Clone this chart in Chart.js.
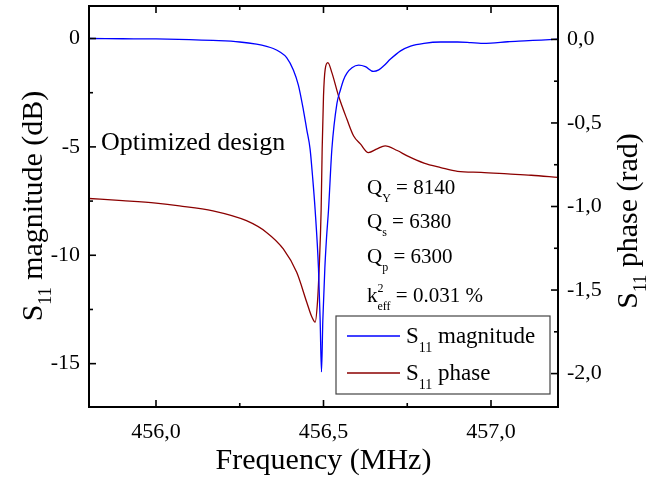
<!DOCTYPE html>
<html>
<head>
<meta charset="utf-8">
<script src="https://cdn.jsdelivr.net/npm/chart.js@4.4.1/dist/chart.umd.min.js"></script>
<style>
    body { margin: 0; background: #fff; }
    #wrap { width: 667px; height: 479px; }
</style>
</head>
<body>
<div id="wrap"><canvas id="myChart" width="667" height="479"></canvas></div>
<script>
// S11 magnitude (dB) vs frequency (MHz)
const freqMag = [455.8, 455.9, 456.0, 456.1, 456.17, 456.25, 456.3, 456.33, 456.35, 456.37, 456.39, 456.41, 456.425, 456.44, 456.45, 456.46, 456.467, 456.475, 456.485, 456.49, 456.494, 456.498, 456.504, 456.509, 456.515, 456.525, 456.54, 456.55, 456.56, 456.57, 456.585, 456.605, 456.625, 456.649, 456.665, 456.68, 456.7, 456.73, 456.76, 456.8, 456.85, 456.9, 456.94, 456.97, 457.0, 457.05, 457.1, 457.15, 457.2];
const magDb = [0, -0.01, -0.02, -0.05, -0.09, -0.16, -0.26, -0.36, -0.46, -0.62, -0.88, -1.45, -2.15, -3.3, -4.2, -5.1, -6.3, -7.9, -10.6, -13.0, -15.38, -13.0, -10.6, -9.2, -7.9, -5.1, -3.0, -2.4, -1.9, -1.6, -1.35, -1.23, -1.3, -1.52, -1.45, -1.26, -0.95, -0.57, -0.35, -0.22, -0.16, -0.16, -0.19, -0.22, -0.21, -0.15, -0.11, -0.07, -0.03];

// S11 phase (rad) vs frequency (MHz)
const freqPhase = [455.8, 455.9, 456.0, 456.07, 456.17, 456.27, 456.33, 456.38, 456.42, 456.45, 456.465, 456.475, 456.482, 456.487, 456.493, 456.496, 456.5, 456.505, 456.513, 456.525, 456.545, 456.57, 456.59, 456.61, 456.634, 456.66, 456.684, 456.72, 456.75, 456.8, 456.85, 456.9, 456.97, 457.05, 457.12, 457.2];
const phaseRad = [-0.952, -0.965, -0.98, -0.996, -1.026, -1.085, -1.155, -1.254, -1.394, -1.573, -1.66, -1.692, -1.573, -1.374, -1.016, -0.657, -0.339, -0.179, -0.139, -0.199, -0.339, -0.478, -0.578, -0.625, -0.677, -0.655, -0.637, -0.665, -0.697, -0.74, -0.767, -0.79, -0.796, -0.805, -0.813, -0.826];

const freqTicks = [456.0, 456.5, 457.0];
const magTicks = [-15, -10, -5, 0];
const phaseTicks = [-2.0, -1.5, -1.0, -0.5, 0.0];

const FONT = '"Liberation Serif", "Times New Roman", serif';
const BLUE = '#0000ff';
const RED = '#8b0000';

function comma(v) {
    return Number(v).toFixed(1).replace('.', ',');
}

// draw a run of text pieces: {t, s (size), dy, stay (don't advance)}
function drawParts(ctx, x, y, parts) {
    let cx = x;
    parts.forEach(p => {
        ctx.font = p.s + 'px ' + FONT;
        ctx.fillText(p.t, cx, y + (p.dy || 0));
        if (!p.stay) cx += ctx.measureText(p.t).width;
    });
}

function partsWidth(ctx, parts) {
    let w = 0;
    parts.forEach(p => {
        ctx.font = p.s + 'px ' + FONT;
        if (!p.stay) w += ctx.measureText(p.t).width;
    });
    return w;
}

function minorValues(majors, min, max) {
    const step = majors[1] - majors[0];
    const out = [];
    for (let v = majors[0] - step / 2; v <= majors[majors.length - 1] + step / 2 + 1e-9; v += step) {
        if (v >= min && v <= max) out.push(v);
    }
    return out;
}

function noPad(s) {
    s.paddingTop = 0;
    s.paddingBottom = 0;
    s.paddingLeft = 0;
    s.paddingRight = 0;
}

const decorPlugin = {
    id: 'decor',
    afterDraw(chart) {
        const { ctx, chartArea: a, scales } = chart;
        ctx.save();
        ctx.strokeStyle = '#000';
        ctx.fillStyle = '#000';

        // frame
        ctx.lineWidth = 2;
        ctx.strokeRect(a.left, a.top, a.right - a.left, a.bottom - a.top);

        // inward ticks
        ctx.lineWidth = 1.6;
        const tick = (x1, y1, x2, y2) => {
            ctx.beginPath(); ctx.moveTo(x1, y1); ctx.lineTo(x2, y2); ctx.stroke();
        };
        const xs = scales.x;
        freqTicks.forEach(v => {
            const px = xs.getPixelForValue(v);
            tick(px, a.bottom, px, a.bottom - 7);
            tick(px, a.top, px, a.top + 7);
        });
        minorValues(freqTicks, xs.min, xs.max).forEach(v => {
            const px = xs.getPixelForValue(v);
            tick(px, a.bottom, px, a.bottom - 4);
            tick(px, a.top, px, a.top + 4);
        });
        const yl = scales.y;
        magTicks.forEach(v => { const py = yl.getPixelForValue(v); tick(a.left, py, a.left + 7, py); });
        minorValues(magTicks, yl.min, yl.max).forEach(v => { const py = yl.getPixelForValue(v); tick(a.left, py, a.left + 4, py); });
        const yr = scales.y1;
        phaseTicks.forEach(v => { const py = yr.getPixelForValue(v); tick(a.right, py, a.right - 7, py); });
        minorValues(phaseTicks, yr.min, yr.max).forEach(v => { const py = yr.getPixelForValue(v); tick(a.right, py, a.right - 4, py); });

        ctx.textBaseline = 'alphabetic';
        ctx.textAlign = 'left';

        // x title
        const xt = [{ t: 'Frequency (MHz)', s: 30 }];
        drawParts(ctx, (a.left + a.right) / 2 - partsWidth(ctx, xt) / 2, 469, xt);

        // left title
        const lt = [{ t: 'S', s: 30 }, { t: '11', s: 18, dy: 9 }, { t: ' magnitude (dB)', s: 30 }];
        ctx.save();
        ctx.translate(42, 206);
        ctx.rotate(-Math.PI / 2);
        drawParts(ctx, -partsWidth(ctx, lt) / 2, 0, lt);
        ctx.restore();

        // right title
        const rt = [{ t: 'S', s: 30 }, { t: '11', s: 18, dy: 9 }, { t: ' phase (rad)', s: 30 }];
        ctx.save();
        ctx.translate(637, 221);
        ctx.rotate(-Math.PI / 2);
        drawParts(ctx, -partsWidth(ctx, rt) / 2, 0, rt);
        ctx.restore();

        // annotations
        drawParts(ctx, 101, 150, [{ t: 'Optimized design', s: 26 }]);
        drawParts(ctx, 367, 194, [{ t: 'Q', s: 21 }, { t: 'Y', s: 12, dy: 8 }, { t: ' = 8140', s: 21 }]);
        drawParts(ctx, 367, 228, [{ t: 'Q', s: 21 }, { t: 's', s: 12, dy: 8 }, { t: ' = 6380', s: 21 }]);
        drawParts(ctx, 367, 263, [{ t: 'Q', s: 21 }, { t: 'p', s: 12, dy: 8 }, { t: ' = 6300', s: 21 }]);
        drawParts(ctx, 367, 302, [{ t: 'k', s: 21 }, { t: '2', s: 12, dy: -10, stay: true }, { t: 'eff', s: 12, dy: 8 }, { t: ' = 0.031 %', s: 21 }]);

        // legend
        ctx.lineWidth = 1.2;
        ctx.strokeStyle = '#444';
        ctx.fillStyle = '#fff';
        ctx.fillRect(336, 316, 214, 78);
        ctx.strokeRect(336, 316, 214, 78);
        ctx.fillStyle = '#000';
        ctx.lineWidth = 1.3;
        ctx.strokeStyle = BLUE;
        tick(347, 336, 400, 336);
        ctx.strokeStyle = RED;
        tick(347, 373, 400, 373);
        drawParts(ctx, 406, 343, [{ t: 'S', s: 23 }, { t: '11', s: 14, dy: 9 }, { t: ' magnitude', s: 23 }]);
        drawParts(ctx, 406, 380, [{ t: 'S', s: 23 }, { t: '11', s: 14, dy: 9 }, { t: ' phase', s: 23 }]);

        ctx.restore();
    }
};

const ctx = document.getElementById('myChart').getContext('2d');

let myChart = new Chart(ctx, {
    type: 'line',
    data: {
        datasets: [{
            label: 'S11 magnitude',
            data: freqMag.map((f, i) => ({ x: f, y: magDb[i] })),
            yAxisID: 'y',
            borderColor: BLUE,
            borderWidth: 1.3,
            pointRadius: 0,
            cubicInterpolationMode: 'monotone',
            fill: false
        }, {
            label: 'S11 phase',
            data: freqPhase.map((f, i) => ({ x: f, y: phaseRad[i] })),
            yAxisID: 'y1',
            borderColor: RED,
            borderWidth: 1.3,
            pointRadius: 0,
            cubicInterpolationMode: 'monotone',
            fill: false
        }]
    },
    options: {
        responsive: false,
        animation: false,
        events: [],
        layout: { padding: { top: 6, left: 0, right: 0, bottom: 0 } },
        plugins: {
            legend: { display: false },
            tooltip: { enabled: false }
        },
        scales: {
            x: {
                type: 'linear',
                min: 455.8,
                max: 457.2,
                grid: { display: false, drawTicks: false },
                border: { display: false },
                afterBuildTicks: s => { s.ticks = freqTicks.map(v => ({ value: v })); },
                afterFit: s => { s.height = 72; noPad(s); },
                ticks: {
                    callback: v => comma(v),
                    font: { family: FONT, size: 22 },
                    color: '#000',
                    padding: 12,
                    maxRotation: 0
                }
            },
            y: {
                position: 'left',
                min: -17,
                max: 1.5,
                grid: { display: false, drawTicks: false },
                border: { display: false },
                afterBuildTicks: s => { s.ticks = magTicks.map(v => ({ value: v })); },
                afterFit: s => { s.width = 89; noPad(s); },
                ticks: {
                    callback: v => String(v),
                    font: { family: FONT, size: 22 },
                    color: '#000',
                    padding: 9
                }
            },
            y1: {
                position: 'right',
                min: -2.2,
                max: 0.2,
                grid: { display: false, drawTicks: false },
                border: { display: false },
                afterBuildTicks: s => { s.ticks = phaseTicks.map(v => ({ value: v })); },
                afterFit: s => { s.width = 109; noPad(s); },
                ticks: {
                    callback: v => comma(v),
                    font: { family: FONT, size: 22 },
                    color: '#000',
                    padding: 9
                }
            }
        }
    },
    plugins: [decorPlugin]
});
</script>
</body>
</html>
